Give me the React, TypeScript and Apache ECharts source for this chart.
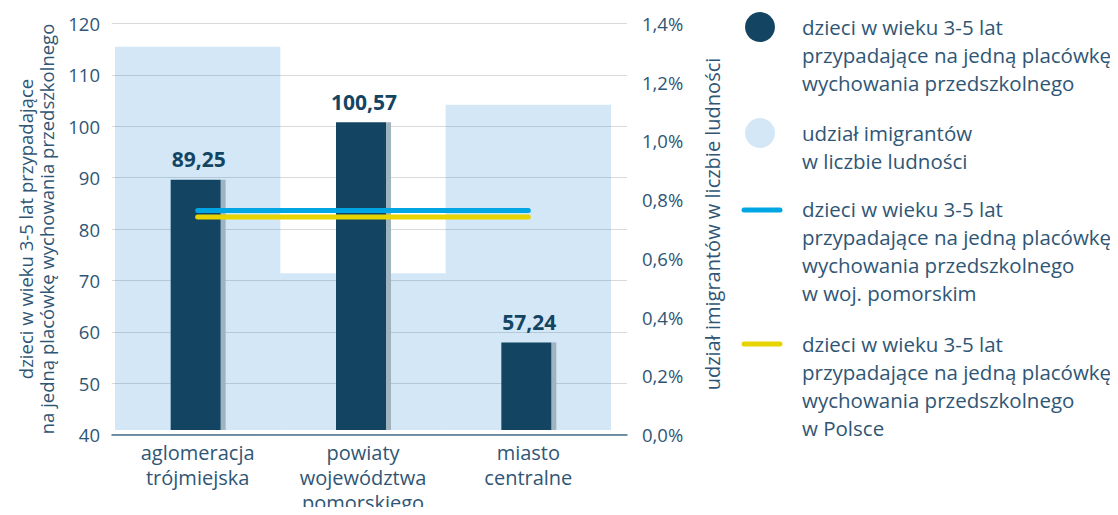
import React, { useEffect, useRef } from "react";
import * as echarts from "echarts";

const categories = ["aglomeracja\ntrójmiejska", "powiaty\nwojewództwa\npomorskiego", "miasto\ncentralne"];
const childrenPerFacility = [89.25, 100.57, 57.24];
const immigrantShare = [1.32, 0.54, 1.12];
const pomorskieAvg = [83.2, 83.2, 83.2];
const polandAvg = [81.9, 81.9, 81.9];
const leftTicks = { min: 40, max: 120, interval: 10 };
const rightTicks = { min: 0, max: 1.4, interval: 0.2 };

const legendItems = [
  "dzieci w wieku 3-5 lat\nprzypadające na jedną placówkę\nwychowania przedszkolnego",
  "udział imigrantów\nw liczbie ludności",
  "dzieci w wieku 3-5 lat\nprzypadające na jedną placówkę\nwychowania przedszkolnego\nw woj. pomorskim",
  "dzieci w wieku 3-5 lat\nprzypadające na jedną placówkę\nwychowania przedszkolnego\nw Polsce",
];
const leftAxisName = "dzieci w wieku 3-5 lat przypadające\nna jedną placówkę wychowania przedszkolnego";
const rightAxisName = "udział imigrantów w liczbie ludności";

const NAVY = "#134563";
const LIGHT = "rgba(35,135,215,0.2)";
const LIGHT_SOLID = "#d3e7f7";
const GREY = "#a0b4c0";
const BLUE = "#00a5e3";
const YELLOW = "#e6d300";
const TEXT = "#2f5675";
const FONT = "'Open Sans', sans-serif";

const fmt = (v: number, d: number) => v.toFixed(d).replace(".", ",");

export default function App() {
  const ref = useRef<HTMLDivElement>(null);
  useEffect(() => {
    if (!ref.current) return;
    const chart = echarts.init(ref.current, undefined, { renderer: "svg" });
    const top = 23.5;
    const height = 411;
    chart.setOption({
      animation: false,
      textStyle: { fontFamily: FONT },
      grid: [
        { left: 115, width: 496, top, height },
        { left: 112, width: 515, top, height },
      ],
      xAxis: [
        {
          type: "category",
          gridIndex: 0,
          data: categories,
          axisLine: { show: false },
          axisTick: { show: false },
          axisLabel: { color: TEXT, fontSize: 20, lineHeight: 25, margin: 10, fontFamily: FONT },
        },
        {
          type: "value",
          gridIndex: 1,
          min: 0,
          max: 1,
          z: 5,
          axisLine: { show: true, lineStyle: { color: "#46708a", width: 1.5 } },
          axisTick: { show: false },
          axisLabel: { show: false },
          splitLine: { show: false },
        },
      ],
      yAxis: [
        {
          type: "value",
          gridIndex: 1,
          position: "left",
          ...leftTicks,
          z: 1,
          axisLine: { show: false },
          axisTick: { show: false },
          axisLabel: { color: TEXT, fontSize: 18.5, margin: 12, fontFamily: FONT },
          splitLine: { show: true, lineStyle: { color: "#d9d9d9", width: 1.2 } },
        },
        {
          type: "value",
          gridIndex: 1,
          position: "right",
          ...rightTicks,
          z: 1,
          axisLine: { show: false },
          axisTick: { show: false },
          axisLabel: { color: TEXT, fontSize: 18.5, margin: 15, fontFamily: FONT, formatter: (v: number) => fmt(v, 1) + "%" },
          splitLine: { show: false },
        },
        { type: "value", gridIndex: 0, ...leftTicks, show: false, splitLine: { show: false } },
        { type: "value", gridIndex: 0, ...rightTicks, show: false, splitLine: { show: false } },
      ],
      series: [
        {
          type: "bar",
          xAxisIndex: 0,
          yAxisIndex: 3,
          data: immigrantShare,
          barWidth: "100%",
          barCategoryGap: 0,
          itemStyle: { color: LIGHT },
          z: 2,
        },
        {
          type: "custom",
          xAxisIndex: 0,
          yAxisIndex: 2,
          data: childrenPerFacility.map((v, i) => [i, v]),
          encode: { x: 0, y: 1 },
          z: 3,
          renderItem: (params: any, api: any) => {
            const p = api.coord([api.value(0), api.value(1)]);
            const b = api.coord([api.value(0), leftTicks.min]);
            const x = p[0];
            const h = b[1] - p[1];
            return {
              type: "group",
              children: [
                { type: "rect", shape: { x: x + 23, y: p[1], width: 5, height: h }, style: { fill: GREY } },
                { type: "rect", shape: { x: x - 27, y: p[1], width: 50, height: h }, style: { fill: NAVY } },
                {
                  type: "text",
                  x: x + 1,
                  y: p[1] - 10,
                  style: {
                    text: fmt(api.value(1), 2),
                    fill: NAVY,
                    fontSize: 21,
                    fontWeight: "bold",
                    fontFamily: FONT,
                    align: "center",
                    verticalAlign: "bottom",
                  },
                },
              ],
            };
          },
        },
        {
          type: "line",
          xAxisIndex: 0,
          yAxisIndex: 2,
          data: pomorskieAvg,
          symbol: "none",
          z: 4,
          lineStyle: { color: BLUE, width: 5, cap: "round" },
        },
        {
          type: "line",
          xAxisIndex: 0,
          yAxisIndex: 2,
          data: polandAvg,
          symbol: "none",
          z: 4,
          lineStyle: { color: YELLOW, width: 5, cap: "round" },
        },
      ],
      graphic: [
        {
          type: "text",
          x: 36,
          y: 229,
          rotation: Math.PI / 2,
          style: {
            text: leftAxisName,
            fill: TEXT,
            fontSize: 18.5,
            lineHeight: 21,
            fontFamily: FONT,
            align: "center",
            verticalAlign: "middle",
          },
        },
        {
          type: "text",
          x: 712,
          y: 224,
          rotation: Math.PI / 2,
          style: {
            text: rightAxisName,
            fill: TEXT,
            fontSize: 20,
            fontFamily: FONT,
            align: "center",
            verticalAlign: "middle",
          },
        },
        { type: "circle", shape: { cx: 760, cy: 27, r: 15 }, style: { fill: NAVY } },
        { type: "circle", shape: { cx: 760, cy: 133, r: 15 }, style: { fill: LIGHT_SOLID } },
        { type: "line", shape: { x1: 744, y1: 210, x2: 780, y2: 210 }, style: { stroke: BLUE, lineWidth: 5, lineCap: "round" } },
        { type: "line", shape: { x1: 744, y1: 344, x2: 780, y2: 344 }, style: { stroke: YELLOW, lineWidth: 5, lineCap: "round" } },
        ...[13, 119, 195, 330].map((y, i) => ({
          type: "text",
          x: 802,
          y,
          style: {
            text: legendItems[i],
            fill: TEXT,
            fontSize: 20.5,
            lineHeight: 28,
            fontFamily: FONT,
            align: "left",
            verticalAlign: "top",
          },
        })),
      ],
    });
    return () => chart.dispose();
  }, []);
  return <div ref={ref} style={{ width: 1118, height: 515, margin: -8 }} />;
}
